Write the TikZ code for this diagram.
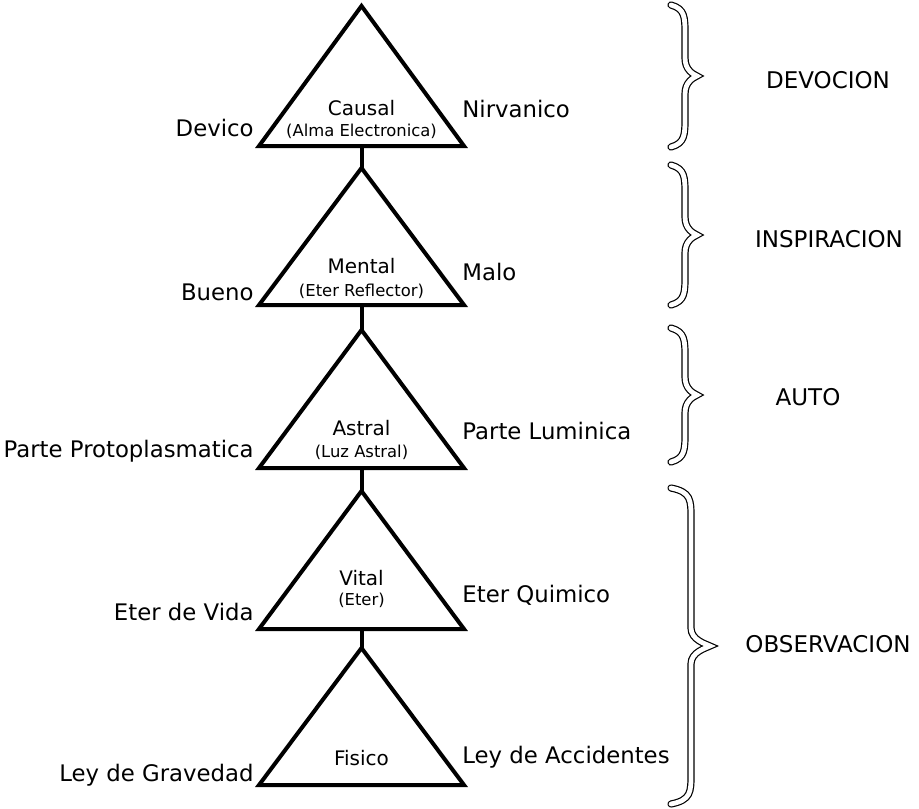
\documentclass[tikz,border=0pt]{standalone}
\usepackage{fontspec}
\setmainfont{DejaVu Sans}
\usetikzlibrary{positioning}
\tikzset{
    level/.style = { line width=2pt, black, line join=miter },
    link/.style = { line width=2pt, black },
    side/.style = { inner sep=0pt, font=\fontsize{11.4}{13}\selectfont },
    plane/.style = { inner sep=0pt, font=\fontsize{10}{12}\selectfont },
    sub/.style = { inner sep=0pt, font=\fontsize{8.2}{9}\selectfont },
    group/.style = { font=\fontsize{11.5}{14}\selectfont },
    curly/.style = { line width=0.6pt, double=white, double distance=2.4pt, line cap=round }
}

\begin{document}
\begin{tikzpicture}[x=0.5pt, y=-0.5pt]
    \useasboundingbox (0,0) rectangle (919,808);

    %%%
    %%% Planes (triangles), top to bottom
    %%%
    \foreach \name / \top / \bot in {causal/6/146, mental/168/305, astral/330/468, vital/491/629, fisico/648/785}
      {
        \coordinate (\name-top) at (361.5,\top);
        \coordinate (\name-bot) at (361.5,\bot);
        \draw[level] (\name-top) -- (259,\bot) -- (464,\bot) -- cycle;
      }
    % Links between the planes
    \foreach \upper / \lower in {causal/mental, mental/astral, astral/vital, vital/fisico}
      {
        \draw[link] (\upper-bot) -- (\lower-top);
      }

    %%%
    %%% Names inside the triangles
    %%%
    \node[plane, anchor=base] (causal-name) at (361.5,115) {Causal};
    \node[sub,   anchor=base] (causal-sub)  at (361.5,136) {(Alma Electronica)};
    \node[plane, anchor=base] (mental-name) at (361.5,273) {Mental};
    \node[sub,   anchor=base] (mental-sub)  at (361.5,296) {(Eter Reflector)};
    \node[plane, anchor=base] (astral-name) at (361.5,435) {Astral};
    \node[sub,   anchor=base] (astral-sub)  at (361.5,457) {(Luz Astral)};
    \node[plane, anchor=base] (vital-name)  at (361.5,585) {Vital};
    \node[sub,   anchor=base] (vital-sub)   at (361.5,605) {(Eter)};
    \node[plane, anchor=base] (fisico-name) at (361.5,765) {Fisico};

    %%%
    %%% Side labels
    %%%
    % Left
    \node[side, anchor=base east] (devico)   at (254,136) {Devico};
    \node[side, anchor=base east] (bueno)    at (254,300) {Bueno};
    \node[side, anchor=base east] (proto)    at (254,457) {Parte Protoplasmatica};
    \node[side, anchor=base east] (vida)     at (254,620) {Eter de Vida};
    \node[side, anchor=base east] (gravedad) at (254,781) {Ley de Gravedad};
    % Right
    \node[side, anchor=base west] (nirvanico)  at (462,118) {Nirvanico};
    \node[side, anchor=base west] (malo)       at (462,280) {Malo};
    \node[side, anchor=base west] (luminica)   at (462,439) {Parte Luminica};
    \node[side, anchor=base west] (quimico)    at (462,602) {Eter Quimico};
    \node[side, anchor=base west] (accidentes) at (462,763) {Ley de Accidentes};

    %%%
    %%% Braces and what they stand for
    %%%
    \foreach \t / \b / \stem / \tip in {5/147/685/697, 165/305/685/697, 328/462/685/697, 488/804/691/710}
      {
        \pgfmathsetmacro{\m}{(\t+\b)/2}
        \draw[curly] (671,\t) .. controls (\stem,\t+4) and (\stem,\t+12) .. (\stem,\t+30)
          -- (\stem,\m-18) .. controls (\stem,\m-6) and (\tip-4,\m-2) .. (\tip,\m)
          .. controls (\tip-4,\m+2) and (\stem,\m+6) .. (\stem,\m+18)
          -- (\stem,\b-30) .. controls (\stem,\b-12) and (\stem,\b-4) .. (671,\b);
      }
    \node[group] (devocion)    at (828,80)  {DEVOCION};
    \node[group] (inspiracion) at (829,239) {INSPIRACION};
    \node[group] (auto)        at (808,397) {AUTO};
    \node[group] (observacion) at (828,644) {OBSERVACION};
\end{tikzpicture}
\end{document}
